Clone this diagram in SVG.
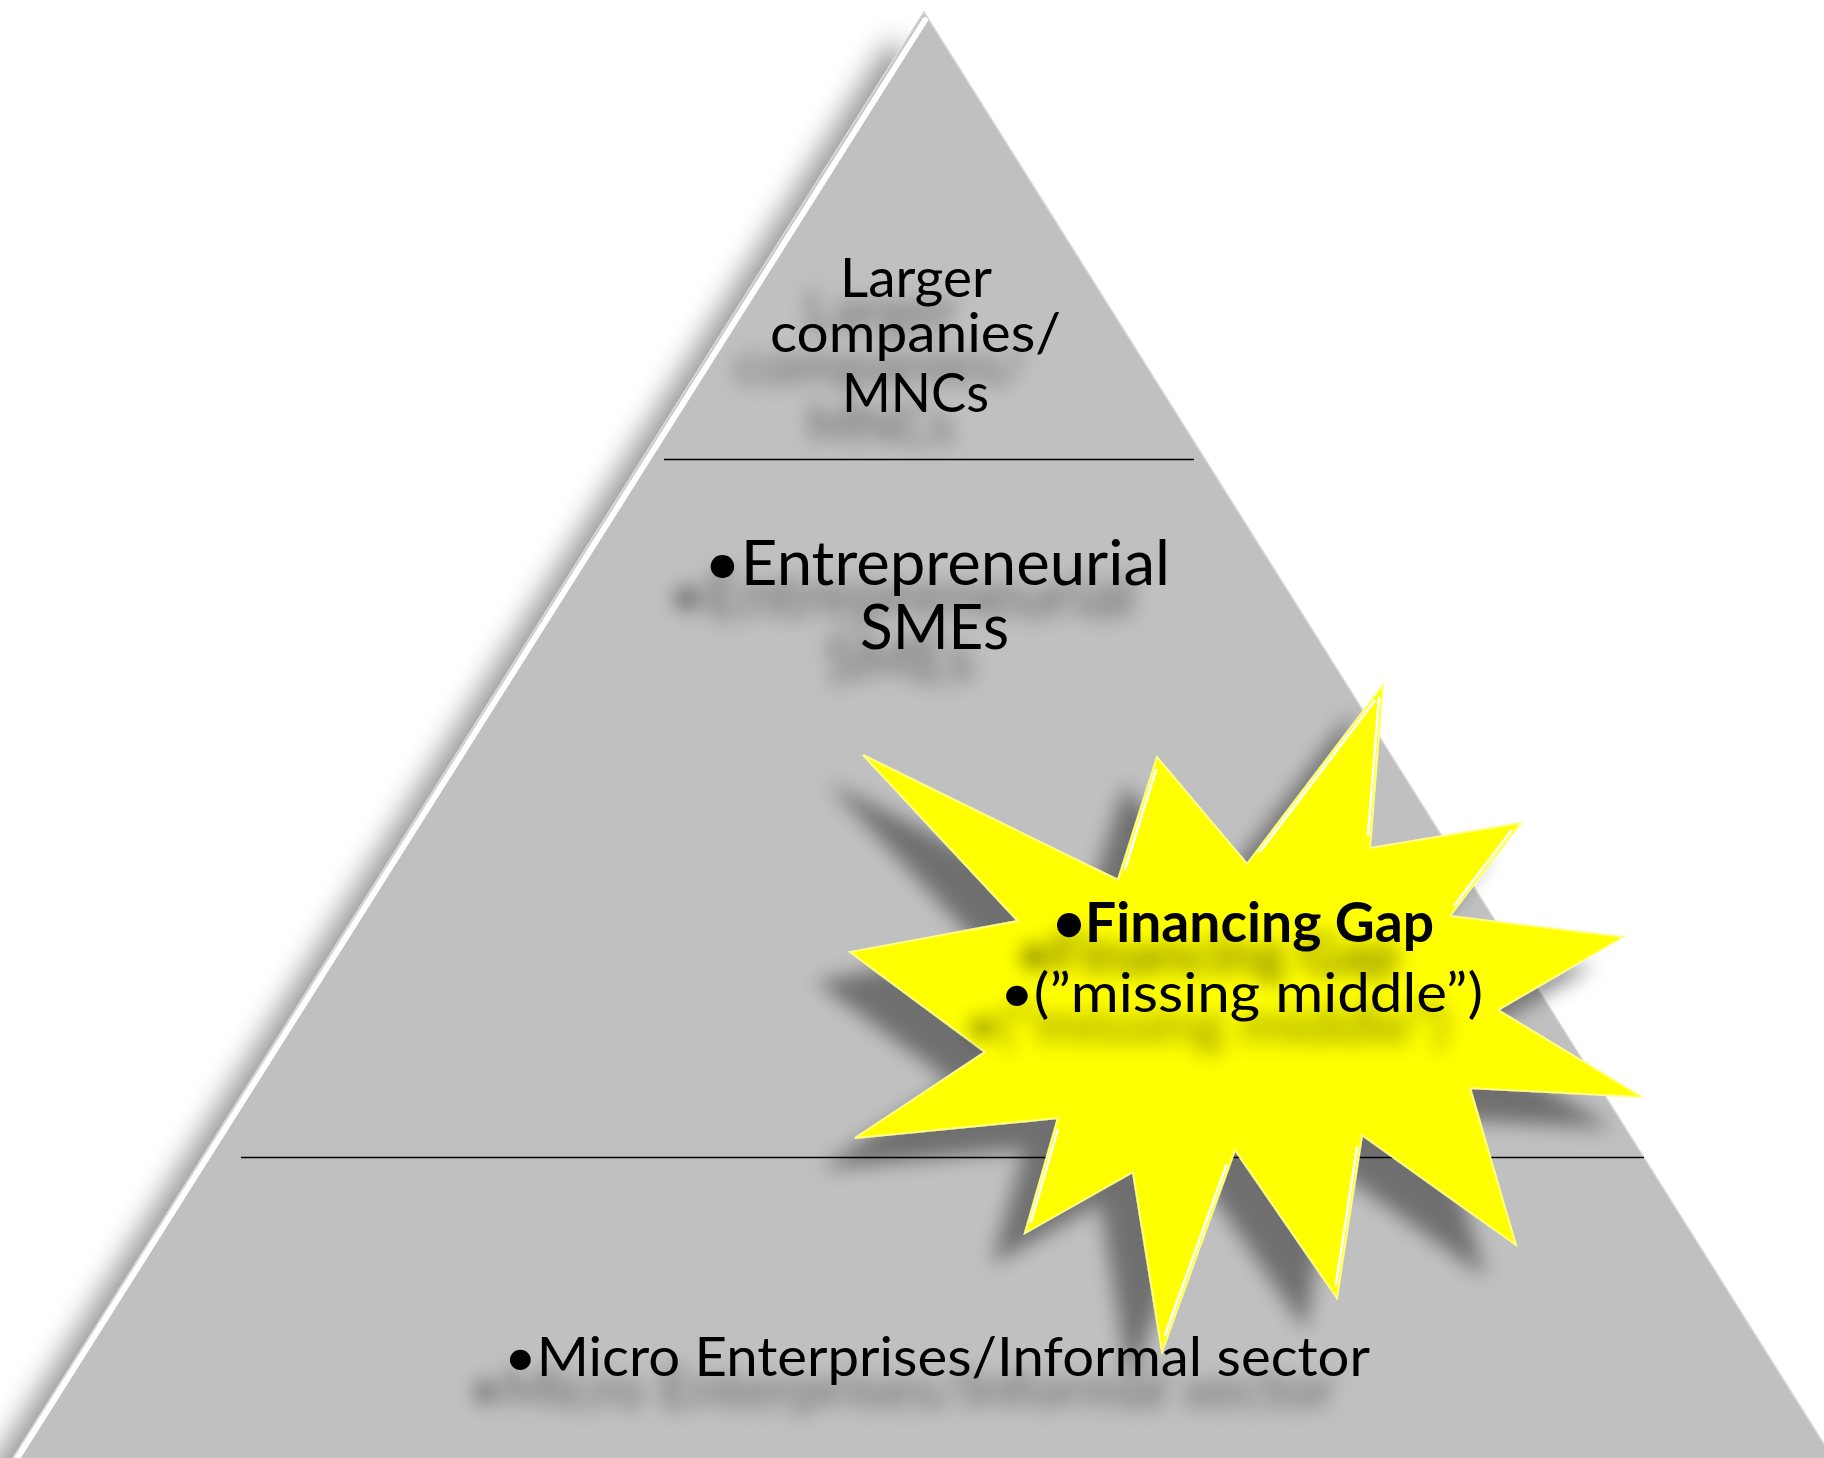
<svg xmlns="http://www.w3.org/2000/svg" width="1824" height="1458" viewBox="0 0 1824 1458">
  <defs>
    <!-- soft drop shadow cast down-left by the pyramid -->
    <filter id="pyramidShadow" filterUnits="userSpaceOnUse" x="-100" y="-100" width="2024" height="1658">
      <feGaussianBlur in="SourceAlpha" stdDeviation="14"/>
      <feOffset dx="-32" dy="26" result="blur"/>
      <feComponentTransfer in="blur" result="shadow">
        <feFuncA type="linear" slope="0.4"/>
      </feComponentTransfer>
      <feMerge>
        <feMergeNode in="shadow"/>
        <feMergeNode in="SourceGraphic"/>
      </feMerge>
    </filter>
    <!-- shadow under the starburst -->
    <filter id="burstShadow" filterUnits="userSpaceOnUse" x="0" y="0" width="1824" height="1458">
      <feGaussianBlur in="SourceAlpha" stdDeviation="10"/>
      <feOffset dx="-32" dy="30" result="blur"/>
      <feComponentTransfer in="blur" result="shadow">
        <feFuncA type="linear" slope="0.42"/>
      </feComponentTransfer>
      <feMerge>
        <feMergeNode in="shadow"/>
        <feMergeNode in="SourceGraphic"/>
      </feMerge>
    </filter>
    <!-- blurred shadow behind labels -->
    <filter id="textShadow" filterUnits="userSpaceOnUse" x="0" y="0" width="1824" height="1458">
      <feGaussianBlur in="SourceAlpha" stdDeviation="10"/>
      <feOffset dx="-35" dy="32" result="blur"/>
      <feComponentTransfer in="blur" result="shadow">
        <feFuncA type="linear" slope="0.5"/>
      </feComponentTransfer>
      <feMerge>
        <feMergeNode in="shadow"/>
        <feMergeNode in="SourceGraphic"/>
      </feMerge>
    </filter>
    <!-- slight softening for bevel highlights -->
    <filter id="soft" x="-20%" y="-20%" width="140%" height="140%">
      <feGaussianBlur stdDeviation="0.6"/>
    </filter>
  </defs>

  <style>
    .label { font-family: Lato, "Open Sans", "Liberation Sans", sans-serif; fill: #000000; }
    .tier { font-size: 55px; }
    .tier-lg { font-size: 62px; }
    .bold { font-weight: 700; }
    .divider { stroke: #000000; stroke-width: 1.6; }
    .bevel { stroke: #ffffff; stroke-width: 2.6; stroke-linecap: round; fill: none; }
  </style>

  <rect width="1824" height="1458" fill="#ffffff"/>

  <!-- pyramid body with bevelled left edge -->
  <g id="pyramid">
    <polygon points="924,12 12,1460 1834,1460" fill="#c0c0c0" stroke="#d6d6d6" stroke-width="1.5" filter="url(#pyramidShadow)"/>
    <line x1="925" y1="20" x2="18" y2="1457" stroke="#ffffff" stroke-width="6" stroke-linecap="round"/>
  </g>

  <!-- dividers between tiers -->
  <g id="tier-lines">
    <line class="divider" x1="664" y1="459.5" x2="1194" y2="459.5"/>
    <line class="divider" x1="241" y1="1157.5" x2="1644" y2="1157.5"/>
  </g>

  <!-- top tier -->
  <g id="tier-large" filter="url(#textShadow)">
    <text class="label tier" x="840" y="297" textLength="152" lengthAdjust="spacingAndGlyphs">Larger</text>
    <text class="label tier" x="770" y="352" textLength="291" lengthAdjust="spacingAndGlyphs">companies/</text>
    <text class="label tier" x="842" y="412" textLength="147" lengthAdjust="spacingAndGlyphs">MNCs</text>
  </g>

  <!-- middle tier -->
  <g id="tier-sme" filter="url(#textShadow)">
    <text class="label tier-lg" x="704" y="585" textLength="466" lengthAdjust="spacingAndGlyphs">•Entrepreneurial</text>
    <text class="label tier-lg" x="860" y="649" textLength="149" lengthAdjust="spacingAndGlyphs">SMEs</text>
  </g>

  <!-- bottom tier -->
  <g id="tier-micro" filter="url(#textShadow)">
    <text class="label tier" x="504" y="1376" textLength="866" lengthAdjust="spacingAndGlyphs">•Micro Enterprises/Informal sector</text>
  </g>

  <!-- financing gap starburst -->
  <g id="financing-gap">
    <polygon filter="url(#burstShadow)" fill="#ffff00" stroke="#ffff80" stroke-width="2" stroke-linejoin="miter"
      points="863,755 1118,880 1157,757 1247,864 1383,685 1370,848 1521,823 1450,916 1623,937 1498,1010 1642,1097 1470,1088 1516,1245 1362,1135 1337,1298 1235,1150 1162,1352 1133,1172 1025,1233 1058,1118 855,1138 985,1052 850,952 1018,921"/>
    <g filter="url(#soft)">
      <line class="bevel" x1="1156" y1="770" x2="1125" y2="869"/>
      <line class="bevel" x1="1374.5" y1="701" x2="1260" y2="851.5"/>
      <line class="bevel" x1="1379" y1="698" x2="1368" y2="835"/>
      <line class="bevel" x1="1511.5" y1="830.5" x2="1454.7" y2="905"/>
      <line class="bevel" x1="1031" y1="1222" x2="1057.6" y2="1130"/>
      <line class="bevel" x1="1165" y1="1335" x2="1226.4" y2="1165"/>
      <line class="bevel" x1="1336" y1="1284.5" x2="1357" y2="1147.5"/>
    </g>
    <g filter="url(#textShadow)">
      <text class="label tier bold" x="1053" y="942" textLength="381" lengthAdjust="spacingAndGlyphs">•Financing Gap</text>
      <text class="label tier" x="1000" y="1012" textLength="483" lengthAdjust="spacingAndGlyphs">•(”missing middle”)</text>
    </g>
  </g>
</svg>
